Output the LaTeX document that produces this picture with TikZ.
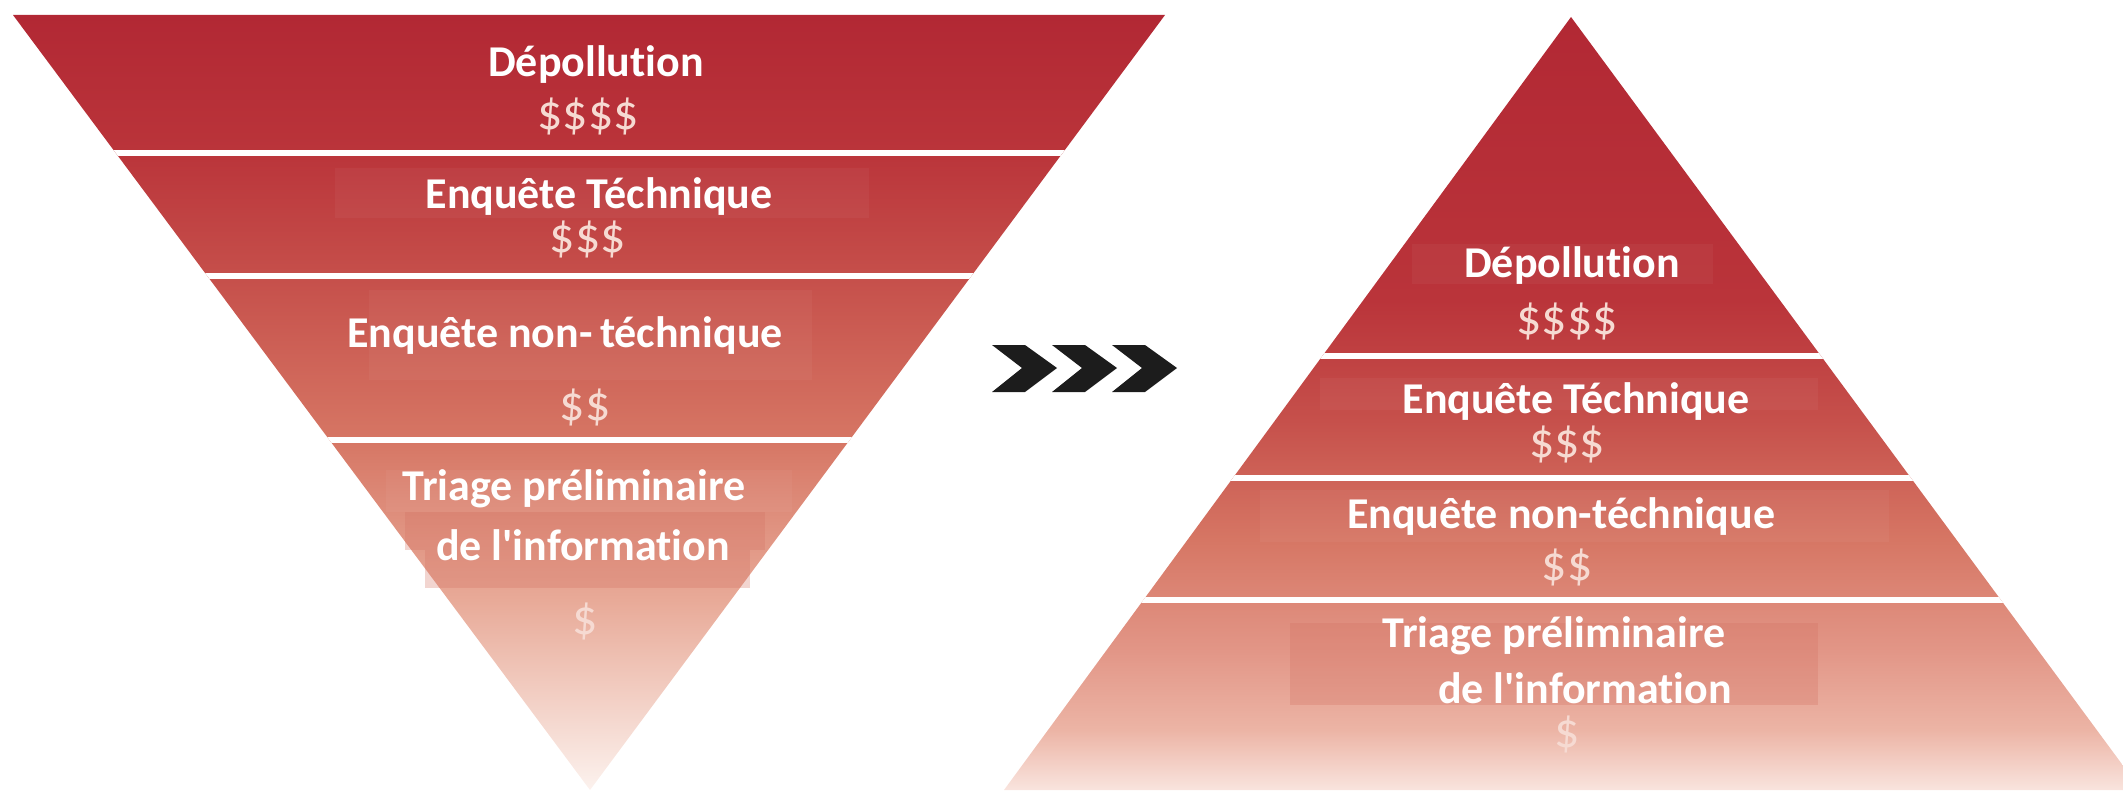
\documentclass[tikz,border=0pt]{standalone}
\usepackage{fontspec}
\setmainfont{Carlito}[Ligatures={NoCommon}]
\usetikzlibrary{positioning}

\definecolor{redTop}{RGB}{178,40,52}
\definecolor{redA}{RGB}{186,52,58}
\definecolor{redB}{RGB}{198,80,75}
\definecolor{redC}{RGB}{214,118,100}
\definecolor{redD}{RGB}{232,170,152}
\definecolor{pyrD}{RGB}{226,150,135}
\definecolor{pyrE}{RGB}{236,180,165}
\definecolor{redEnd}{RGB}{252,242,238}
\definecolor{pyrEnd}{RGB}{249,228,222}
\definecolor{dollarPink}{RGB}{246,218,210}
\definecolor{patchRed}{RGB}{212,115,100}
\definecolor{chevronBlack}{RGB}{28,28,28}

\pgfdeclareverticalshading{funnelfade}{100bp}{
  color(0bp)=(redEnd); color(25bp)=(redEnd); color(37.25bp)=(redD);
  color(47.6bp)=(redC); color(57.9bp)=(redB); color(66.3bp)=(redA);
  color(75bp)=(redTop); color(100bp)=(redTop)}
\pgfdeclareverticalshading{pyramidfade}{100bp}{
  color(0bp)=(pyrEnd); color(25bp)=(pyrEnd); color(28.9bp)=(pyrE);
  color(34bp)=(pyrD); color(41.2bp)=(redC); color(48.9bp)=(redB);
  color(56.7bp)=(redA); color(75bp)=(redTop); color(100bp)=(redTop)}

\tikzset{
stagetxt/.style={
  text=white,font=\bfseries\fontsize{22}{26}\selectfont,
  anchor=base,inner sep=0pt},
costtxt/.style={
  text=dollarPink,font=\fontsize{25}{30}\selectfont,
  anchor=base,inner sep=0pt},
gapline/.style={white,line width=3pt},
patch/.style={fill=white,fill opacity=0.04},
darkpatch/.style={fill=patchRed,fill opacity=0.3}
}

\begin{document}
\begin{tikzpicture}[x=0.5pt,y=-0.5pt,chevron/.style={fill=chevronBlack}]
\useasboundingbox (0,0) rectangle (2123,792);

% funnel
\coordinate (FL) at (13,15);
\coordinate (FR) at (1165,15);
\coordinate (FA) at (590,790);
\shade[shading=funnelfade] (FL) -- (FR) -- (FA) -- cycle;
\begin{scope}
  \clip (FL) -- (FR) -- (FA) -- cycle;
  \draw[gapline] (0,153) -- (1200,153);
  \draw[gapline] (0,276) -- (1200,276);
  \draw[gapline] (0,440) -- (1200,440);
\end{scope}
\fill[patch] (335,168) rectangle (869,218);
\fill[patch] (369,290) rectangle (812,380);
\fill[patch] (386,470) rectangle (792,512);
\fill[darkpatch] (405,512) rectangle (765,550);
\fill[darkpatch] (425,550) rectangle (750,588);

\node[stagetxt](DEPnode) at (596,77){Dépollution};
\node[costtxt](DEPcost) at (588,129){\$\$\$\$};
\node[stagetxt](TECHnode) at (599,208){Enquête Téchnique};
\node[costtxt](TECHcost) at (588,252){\$\$\$};
\node[stagetxt](NONTECHnode) at (565,347){Enquête non-\,téchnique};
\node[costtxt](NONTECHcost) at (585,420){\$\$};
\node[stagetxt](TRIAGEnode) at (574,500){Triage préliminaire};
\node[stagetxt](INFOnode) at (583,560){de l\textquotesingle information};
\node[costtxt](TRIAGEcost) at (585,634){\$};

% chevrons
\foreach \dx in {0,60,120}
  \fill[chevron,shift={(\dx,0)}] (992,345) -- (1025,345) -- (1057,368)
    -- (1025,392) -- (992,392) -- (1022,368) -- cycle;

% pyramid
\coordinate (PA) at (1571,17);
\coordinate (PL) at (1004,790);
\coordinate (PR) at (2141,790);
\shade[shading=pyramidfade] (PA) -- (PR) -- (PL) -- cycle;
\begin{scope}
  \clip (PA) -- (PR) -- (PL) -- cycle;
  \draw[gapline] (950,356) -- (2200,356);
  \draw[gapline] (950,478) -- (2200,478);
  \draw[gapline] (950,600) -- (2200,600);
\end{scope}
\fill[patch] (1412,244) rectangle (1713,284);
\fill[patch] (1320,378) rectangle (1818,410);
\fill[patch] (1260,490) rectangle (1889,542);
\fill[darkpatch] (1290,623) rectangle (1818,705);

\node[stagetxt](DEPnodeR) at (1572,277){Dépollution};
\node[costtxt](DEPcostR) at (1567,334){\$\$\$\$};
\node[stagetxt](TECHnodeR) at (1576,413){Enquête Téchnique};
\node[costtxt](TECHcostR) at (1567,457){\$\$\$};
\node[stagetxt](NONTECHnodeR) at (1561,528){Enquête non-téchnique};
\node[costtxt](NONTECHcostR) at (1567,580){\$\$};
\node[stagetxt](TRIAGEnodeR) at (1554,647){Triage préliminaire};
\node[stagetxt](INFOnodeR) at (1585,703){de l\textquotesingle information};
\node[costtxt](TRIAGEcostR) at (1567,747){\$};
\end{tikzpicture}
\end{document}
